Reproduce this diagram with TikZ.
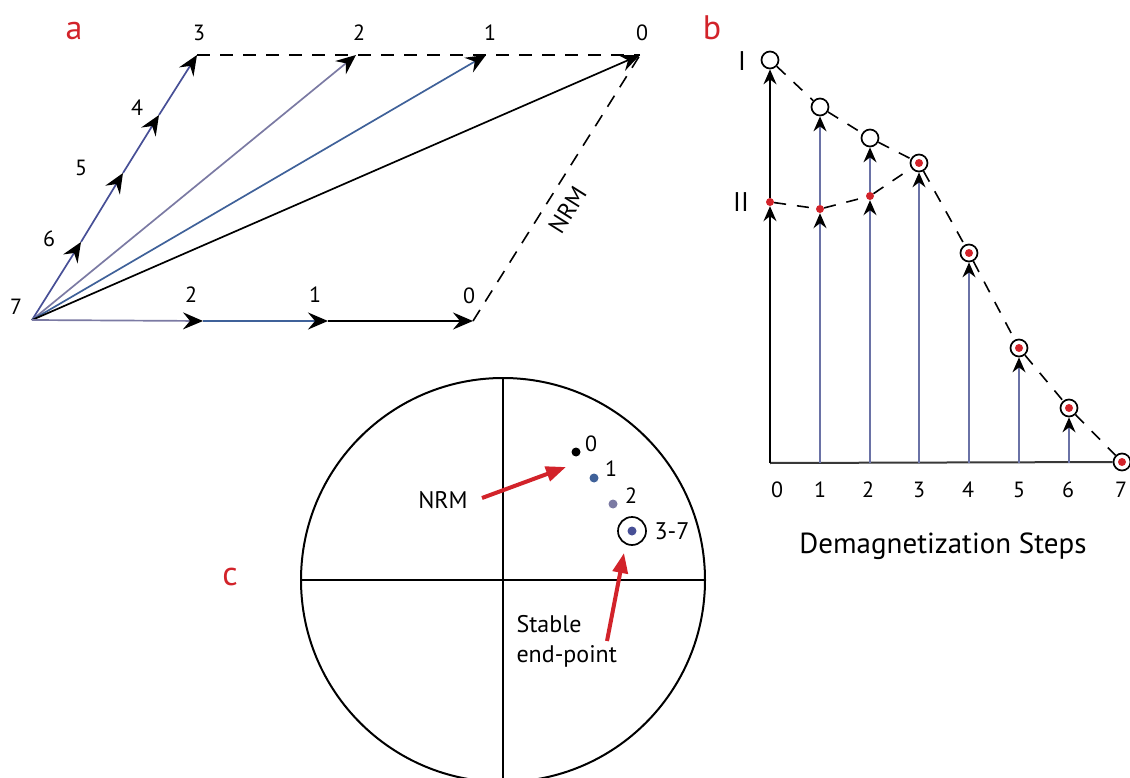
\documentclass[tikz,border=0pt]{standalone}
\usepackage{fontspec}
\setmainfont{PT Sans}
\usetikzlibrary{arrows.meta}

\definecolor{tagred}{HTML}{D2232A}
\definecolor{vecpurple}{HTML}{7B7AA3}
\definecolor{vecblue}{HTML}{3F6199}
\definecolor{chainblue}{HTML}{474F96}
\definecolor{stemblue}{HTML}{6A72A6}
\definecolor{axisgrey}{HTML}{383838}

\begin{document}
\begin{tikzpicture}[x=1pt,y=-1pt,
  vec/.style={line width=1.7pt,-{Stealth[length=20pt,width=17pt,inset=7pt,color=black]}},
  dashln/.style={line width=1.6pt,dash pattern=on 13pt off 10pt},
  num/.style={font=\fontsize{22}{26}\selectfont},
  roman/.style={font=\fontsize{27}{32}\selectfont},
  word/.style={font=\fontsize{24}{30}\selectfont},
  tag/.style={font=\fontsize{34}{40}\selectfont,text=tagred,anchor=base},
  ring/.style={circle,draw,line width=1.7pt,minimum size=17pt,inner sep=0pt},
  reddot/.style={circle,fill=tagred,minimum size=8pt,inner sep=0pt},
  stem/.style={line width=1.7pt,stemblue,-{Stealth[length=15pt,width=13pt,inset=5pt,color=black]}},
  pole/.style={circle,minimum size=9pt,inner sep=0pt},
  pointer/.style={line width=4pt,draw=tagred,-{Triangle[length=20pt,width=15pt]}},
]
\clip (0,0) rectangle (1130,778);

% --- panel a: vector sums
\node[tag] (taga) at (74,40) {a};
\coordinate (p7) at (32,320);
\coordinate (p6) at (81,242);
\coordinate (p5) at (123,173);
\coordinate (p4) at (159,115);
\coordinate (t3) at (197,55);
\coordinate (t2) at (356,55);
\coordinate (t1) at (486,55);
\coordinate (t0) at (640,55);
\coordinate (b2) at (203,321);
\coordinate (b1) at (328,321);
\coordinate (b0) at (473,321);

\draw[dashln] (t3) -- (t0);
\draw[dashln] (b0) -- (t0) node[pos=0.46,sloped,below=8pt,word] (nrma) {NRM};
\draw[vec,chainblue] (p7) -- (p6);
\draw[vec,chainblue] (p6) -- (p5);
\draw[vec,chainblue] (p5) -- (p4);
\draw[vec,chainblue] (p4) -- (t3);
\draw[vec,vecpurple] (p7) -- (t2);
\draw[vec,vecblue] (p7) -- (t1);
\draw[vec,black] (p7) -- (t0);
\draw[vec,vecpurple] (p7) -- (b2);
\draw[vec,vecblue] (b2) -- (b1);
\draw[vec,black] (b1) -- (b0);

\node[num] (l7) at (16,307) {7};
\node[num] (l6) at (49,239) {6};
\node[num] (l5) at (81,168) {5};
\node[num] (l4) at (137,108) {4};
\node[num] (l3) at (199,33) {3};
\node[num] (lt2) at (359,33) {2};
\node[num] (lt1) at (490,33) {1};
\node[num] (lt0) at (642,33) {0};
\node[num] (lb2) at (191,295) {2};
\node[num] (lb1) at (315,295) {1};
\node[num] (lb0) at (469,296) {0};

% --- panel b: intensity against step
\node[tag] (tagb) at (712,40) {b};
\coordinate (s0) at (770,463);
\coordinate (s1) at (820,463);
\coordinate (s2) at (870,463);
\coordinate (s3) at (919,463);
\coordinate (s4) at (969,463);
\coordinate (s5) at (1019,463);
\coordinate (s6) at (1069,463);

\node[ring] (i0) at (770,60) {};
\node[ring] (i1) at (820,107) {};
\node[ring] (i2) at (870,138) {};
\node[ring] (i3) at (919,163) {};
\node[ring] (i4) at (969,253) {};
\node[ring] (i5) at (1019,348) {};
\node[ring] (i6) at (1069,408) {};
\node[ring] (i7) at (1122,462) {};
\node[reddot] (ii0) at (770,202) {};
\node[reddot] (ii1) at (820,209) {};
\node[reddot] (ii2) at (870,196) {};
\node[reddot] (d3) at (i3) {};
\node[reddot] (d4) at (i4) {};
\node[reddot] (d5) at (i5) {};
\node[reddot] (d6) at (i6) {};
\node[reddot] (d7) at (i7) {};

\draw[line width=2pt,axisgrey] (s0) -- (i7);
\draw[stem,black] (s0) -- (ii0);
\draw[stem,black] (ii0) -- (i0);
\draw[stem] (s1) -- (ii1);
\draw[stem] (ii1) -- (i1);
\draw[stem] (s2) -- (ii2);
\draw[stem] (ii2) -- (i2);
\draw[stem] (s3) -- (i3);
\draw[stem] (s4) -- (i4);
\draw[stem] (s5) -- (i5);
\draw[stem] (s6) -- (i6);

\draw[dashln,dash pattern=on 12pt off 11pt] (i0) -- (i1) -- (i2) -- (i3) -- (i4) -- (i5) -- (i6) -- (i7);
\draw[dashln,dash pattern=on 12pt off 11pt] (ii0) -- (ii1) -- (ii2) -- (i3);

\node[roman] (romi) at (742,61) {I};
\node[roman] (romii) at (741,202) {II};
\node[num] (n0) at (777,490) {0};
\node[num] (n1) at (820,490) {1};
\node[num] (n2) at (868,490) {2};
\node[num] (n3) at (919,490) {3};
\node[num] (n4) at (968,490) {4};
\node[num] (n5) at (1019,490) {5};
\node[num] (n6) at (1068,490) {6};
\node[num] (n7) at (1121,490) {7};
\node[word,font=\fontsize{29}{34}\selectfont,anchor=base] (steps) at (943,553) {Demagnetization Steps};

% --- panel c: stereonet
\node[tag] (tagc) at (230,585) {c};
\coordinate (cc) at (503,580);
\coordinate (cn) at (503,378);
\coordinate (cs) at (503,782);
\coordinate (cw) at (301,580);
\coordinate (ce) at (705,580);
\draw[line width=2pt] (cc) circle (202pt);
\draw[line width=1.8pt] (cw) -- (ce);
\draw[line width=1.8pt] (cn) -- (cs);

\node[pole,fill=black] (c0) at (576,452) {};
\node[pole,fill=vecblue] (c1) at (594,478) {};
\node[pole,fill=vecpurple] (c2) at (613,504) {};
\node[pole,fill=chainblue] (c37) at (632,531) {};
\node[ring,minimum size=28pt] (c37ring) at (c37) {};
\node[num] (lc0) at (591,444) {0};
\node[num] (lc1) at (611,469) {1};
\node[num] (lc2) at (631,496) {2};
\node[word] (lc37) at (672,531) {3-7};

\node[word] (nrmc) at (443,500) {NRM};
\coordinate (nrmtail) at (482,498);
\coordinate (nrmtip) at (566,467);
\draw[pointer] (nrmtail) -- (nrmtip);

\node[word,align=left,anchor=north west] (stable) at (513,612) {Stable\\end-point};
\coordinate (endtail) at (607,641);
\coordinate (endtip) at (624,553);
\draw[pointer] (endtail) -- (endtip);
\end{tikzpicture}
\end{document}
